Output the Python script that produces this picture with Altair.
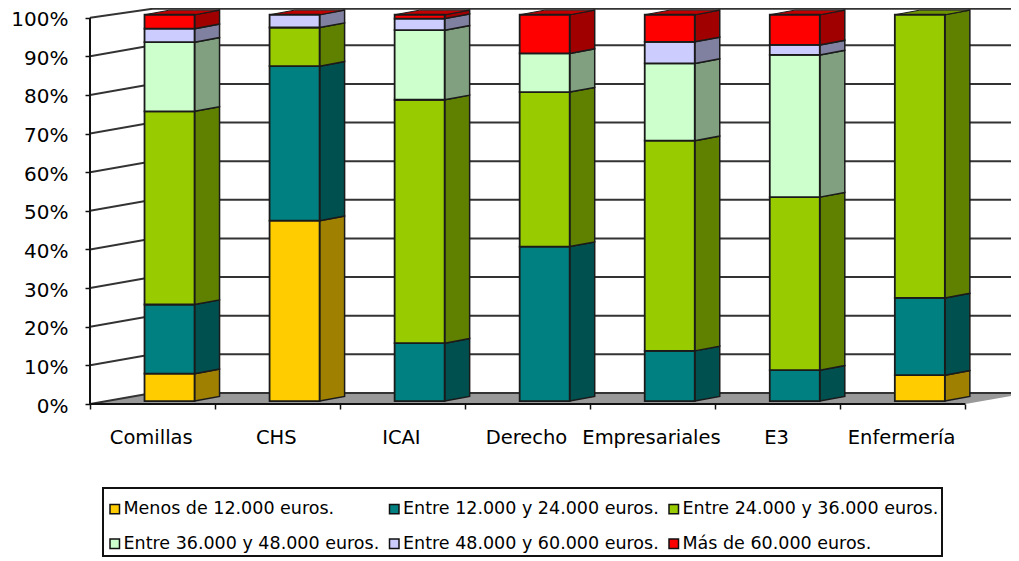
import altair as alt
import pandas as pd

categories = ["Comillas", "CHS", "ICAI", "Derecho", "Empresariales", "E3", "Enfermería"]
series = ["Menos de 12.000 euros.", "Entre 12.000 y 24.000 euros.", "Entre 24.000 y 36.000 euros.",
          "Entre 36.000 y 48.000 euros.", "Entre 48.000 y 60.000 euros.", "Más de 60.000 euros."]
under_12k = [7.1, 46.7, None, None, None, None, 6.7]
from_12k = [17.9, 40.0, 15.0, 40.0, 13.0, 8.0, 20.0]
from_24k = [50.0, 10.0, 63.0, 40.0, 54.4, 44.8, 73.3]
from_36k = [17.9, None, 18.0, 10.0, 20.0, 36.8, None]
from_48k = [3.5, 3.3, 3.0, None, 5.6, 2.6, None]
over_60k = [3.6, 0.0, 1.0, 10.0, 7.0, 7.8, None]
columns = [under_12k, from_12k, from_24k, from_36k, from_48k, over_60k]

front_colors = ["#FFCC00", "#008080", "#99CC00", "#CCFFCC", "#CCCCFF", "#FF0000"]
side_colors = ["#A08000", "#005050", "#608000", "#80A080", "#8080A0", "#A00000"]
top_colors = ["#B89400", "#006060", "#6E9400", "#94B894", "#9494B8", "#C00000"]

grid_levels = list(range(0, 101, 10))
n = len(categories)

# depth geometry in axis units
WALL_DX = 0.5
WALL_DY = 2.85
BAR_START = 0.436
BAR_W = 0.4
BAR_DX = 0.2
BAR_DY = 1.2
BAR_LIFT = 0.75
Y_MAX = 102.5
X_MAX = 7.365
W, H = 921, 396

x_scale = alt.Scale(domain=[0, X_MAX], nice=False, zero=False)
y_scale = alt.Scale(domain=[0, Y_MAX], nice=False, zero=False)

front, side, top = [], [], []
for i, cat in enumerate(categories):
    base = 0.0
    last = None
    x0 = i + BAR_START
    x1 = x0 + BAR_W
    for s, name in enumerate(series):
        v = columns[s][i]
        if v is None:
            continue
        lo, hi = base + BAR_LIFT, base + v + BAR_LIFT
        base += v
        last = s
        if v > 0:
            front.append(dict(x=x0, x2=x1, y=lo, y2=hi, serie=name))
            key = f"{i}-{s}"
            side.append(dict(x=x1, y=lo, y2=hi, id=key, fill=side_colors[s]))
            side.append(dict(x=x1 + BAR_DX, y=lo + BAR_DY, y2=hi + BAR_DY, id=key, fill=side_colors[s]))
    t = base + BAR_LIFT
    c = top_colors[last]
    top.append(dict(x=x0, y=t, y2=t, id=i, fill=c))
    top.append(dict(x=x0 + BAR_DX, y=t, y2=t + BAR_DY, id=i, fill=c))
    top.append(dict(x=x1, y=t, y2=t + BAR_DY, id=i, fill=c))
    top.append(dict(x=x1 + BAR_DX, y=t + BAR_DY, y2=t + BAR_DY, id=i, fill=c))

floor_df = pd.DataFrame([
    dict(x=0, y=0, y2=0),
    dict(x=WALL_DX, y=0, y2=WALL_DY),
    dict(x=n, y=0, y2=WALL_DY),
    dict(x=n + WALL_DX, y=WALL_DY, y2=WALL_DY),
])

grid_rows = []
for lv in grid_levels:
    back = min(lv + WALL_DY, Y_MAX - 0.2)
    grid_rows += [dict(x=0, y=lv, lv=lv), dict(x=WALL_DX, y=back, lv=lv), dict(x=X_MAX, y=back, lv=lv)]
grid_df = pd.DataFrame(grid_rows)

xp = alt.X("x:Q", scale=x_scale, title=None,
           axis=alt.Axis(values=list(range(n + 1)), labels=False, domain=False, grid=False,
                         ticks=True, tickSize=5, tickColor="#111", tickWidth=1.5))
yp = alt.Y("y:Q", scale=y_scale, title=None,
           axis=alt.Axis(values=grid_levels, labelExpr="datum.value + '%'", domain=False, grid=False,
                         tickSize=5, tickColor="#111", tickWidth=1.5, labelPadding=17, labelOverlap=False,
                         labelOffset=2, labelFont="DejaVu Sans", labelFontSize=20, labelColor="#000"))

floor = alt.Chart(floor_df).mark_area(color="#999999", clip=True, line=False, opacity=1).encode(xp, yp, y2="y2:Q")
grid = alt.Chart(grid_df).mark_line(color="#333333", strokeWidth=2, clip=True).encode(xp, yp, detail="lv:N")

y_line = alt.Chart(pd.DataFrame(dict(x=[0, 0], y=[0, 100]))).mark_line(color="#111", strokeWidth=2).encode(xp, yp)
x_line = alt.Chart(pd.DataFrame(dict(x=[0, n], y=[0, 0]))).mark_line(color="#111", strokeWidth=2).encode(xp, yp)

side_l = alt.Chart(pd.DataFrame(side)).mark_area(stroke="#1a1a1a", strokeWidth=1.5, opacity=1).encode(
    xp, yp, y2="y2:Q", detail="id:N", fill=alt.Fill("fill:N", scale=None))
top_l = alt.Chart(pd.DataFrame(top)).mark_area(stroke="#1a1a1a", strokeWidth=1, opacity=1).encode(
    xp, yp, y2="y2:Q", detail="id:N", fill=alt.Fill("fill:N", scale=None))
front_l = alt.Chart(pd.DataFrame(front)).mark_rect(stroke="#1a1a1a", strokeWidth=1.8).encode(
    xp, x2="x2:Q", y=yp, y2="y2:Q",
    color=alt.Color("serie:N", scale=alt.Scale(domain=series, range=front_colors),
                    legend=alt.Legend(title=" ", titleFontSize=9, titlePadding=0, orient="none",
                                      legendX=13, legendY=480, columns=3,
                                      direction="horizontal",
                                      symbolType="square", symbolSize=90, symbolStrokeColor="#111",
                                      symbolStrokeWidth=1.5, labelFont="DejaVu Sans", labelFontSize=17.5,
                                      labelColor="#000", labelLimit=400, columnPadding=5.5, rowPadding=16,
                                      gridAlign="all", strokeColor="#111", padding=3, fillColor="white",
                                      symbolOffset=0, labelOffset=0)))

labels = alt.Chart(pd.DataFrame(dict(x=[i + 0.49 for i in range(n)], t=categories))).mark_text(
    font="DejaVu Sans", fontSize=19.5, color="#000", baseline="middle", align="center").encode(
    xp, y=alt.value(H + 34), text="t:N")

chart = alt.layer(floor, grid, y_line, x_line, side_l, top_l, front_l, labels).properties(
    width=W, height=H,
    padding={"left": 82, "right": 0, "top": 0, "bottom": 157},
    autosize=alt.AutoSizeParams(type="none", contains="content"),
    background="white",
).configure_view(stroke=None).configure_axis(labelOverlap=False).configure_legend(strokeWidth=2)

chart.save("out.html", embed_options={"renderer": "svg", "actions": False})
